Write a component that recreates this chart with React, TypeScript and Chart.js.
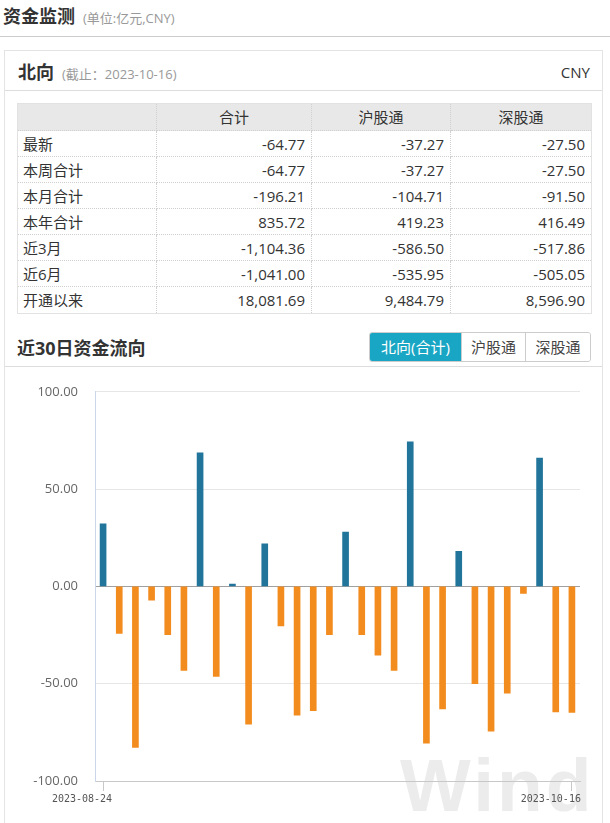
import React, { useEffect, useRef } from "react";
import { Chart, registerables } from "chart.js";

Chart.register(...registerables);

// ---------- data ----------
const dates = [
  "2023-08-24", "2023-08-25", "2023-08-28", "2023-08-29", "2023-08-30", "2023-08-31",
  "2023-09-01", "2023-09-04", "2023-09-05", "2023-09-06", "2023-09-07", "2023-09-11",
  "2023-09-12", "2023-09-13", "2023-09-14", "2023-09-15", "2023-09-18", "2023-09-19",
  "2023-09-20", "2023-09-21", "2023-09-22", "2023-09-25", "2023-09-26", "2023-09-27",
  "2023-10-09", "2023-10-10", "2023-10-11", "2023-10-12", "2023-10-13", "2023-10-16",
];
const northFlow = [
  32.1, -24.1, -82.7, -7.1, -24.8, -43.2, 68.7, -46.3, 1.2, -70.8,
  21.9, -20.3, -66.2, -63.9, -24.8, 27.9, -24.8, -35.4, -43.2, 74.3,
  -80.5, -62.9, 18.0, -50.0, -74.4, -54.9, -3.6, 65.9, -64.5, -64.77,
];
const yTicks = [100, 50, 0, -50, -100];

const tableColumns = ["合计", "沪股通", "深股通"];
const rowLabels = ["最新", "本周合计", "本月合计", "本年合计", "近3月", "近6月", "开通以来"];
const totalCol = ["-64.77", "-64.77", "-196.21", "835.72", "-1,104.36", "-1,041.00", "18,081.69"];
const shCol = ["-37.27", "-37.27", "-104.71", "419.23", "-586.50", "-535.95", "9,484.79"];
const szCol = ["-27.50", "-27.50", "-91.50", "416.49", "-517.86", "-505.05", "8,596.90"];
const tabs = ["北向(合计)", "沪股通", "深股通"];

const BLUE = "#21759b";
const ORANGE = "#f28c1e";
const TEAL = "#19a6c4";
const FONT = '"Open Sans", "Noto Sans CJK SC", sans-serif';

function FlowChart() {
  const ref = useRef<HTMLCanvasElement | null>(null);
  useEffect(() => {
    if (!ref.current) return;
    const last = dates.length - 1;
    const chart = new Chart(ref.current, {
      type: "bar",
      data: {
        labels: dates,
        datasets: [
          {
            data: northFlow,
            backgroundColor: northFlow.map((v) => (v >= 0 ? BLUE : ORANGE)),
            borderWidth: 0,
            barThickness: 6,
          },
        ],
      },
      options: {
        animation: false,
        responsive: false,
        maintainAspectRatio: false,
        layout: { padding: { top: 24, right: 22, bottom: 16, left: 0 } },
        plugins: { legend: { display: false }, tooltip: { enabled: false } },
        scales: {
          x: {
            offset: true,
            grid: {
              display: true,
              offset: false,
              drawOnChartArea: false,
              drawTicks: true,
              tickLength: 10,
              color: (c: any) => (c.index === 0 || c.index === last ? "#c8c8c8" : "rgba(0,0,0,0)"),
            },
            border: { display: true, color: "#c8c8c8" },
            ticks: {
              autoSkip: false,
              maxRotation: 0,
              minRotation: 0,
              align: "end",
              labelOffset: 9,
              padding: 2,
              color: "#555",
              font: { family: "DejaVu Sans Mono", size: 10 },
              callback: (_v: any, i: number) => (i === 0 || i === last ? dates[i] : ""),
            },
          },
          y: {
            min: -100,
            max: 100,
            afterBuildTicks: (s: any) => {
              s.ticks = yTicks.map((v) => ({ value: v }));
            },
            afterFit: (s: any) => {
              s.width = 90;
            },
            grid: {
              drawTicks: false,
              color: (c: any) =>
                c.tick && c.tick.value === 0 ? "#a0a0a0" : c.tick && c.tick.value === -100 ? "#c8c8c8" : "#e6e6e6",
            },
            border: { color: "#ccd6eb" },
            ticks: {
              padding: 17,
              color: "#666",
              font: { family: "Open Sans", size: 13 },
              callback: (v: any) => Number(v).toFixed(2),
            },
          },
        },
      },
    } as any);
    return () => chart.destroy();
  }, []);
  return (
    <canvas
      ref={ref}
      width={597}
      height={456}
      style={{ position: "absolute", left: 5, top: 367, width: 597, height: 456, zIndex: 2 }}
    />
  );
}

const abs = (o: React.CSSProperties): React.CSSProperties => ({ position: "absolute", ...o });

export default function App() {
  const colW = [139, 155, 139, 140];
  const cellBase: React.CSSProperties = {
    boxSizing: "border-box",
    borderRight: "1px dotted #cfcfcf",
    borderBottom: "1px dotted #cfcfcf",
    whiteSpace: "nowrap",
    overflow: "hidden",
  };
  const rows = rowLabels.map((r, i) => [r, totalCol[i], shCol[i], szCol[i]]);
  return (
    <div
      style={abs({
        left: 0,
        top: 0,
        width: 610,
        height: 823,
        overflow: "hidden",
        background: "#fff",
        fontFamily: FONT,
        color: "#333",
      })}
    >
      {/* page title */}
      <div style={abs({ left: 3, top: 4, height: 24, lineHeight: "24px", whiteSpace: "nowrap" })}>
        <span style={{ fontSize: 18, fontWeight: 700, color: "#333" }}>资金监测</span>
        <span style={{ fontSize: 13, color: "#999", marginLeft: 8 }}>(单位:亿元,CNY)</span>
      </div>
      <div style={abs({ left: 0, top: 36, width: 610, height: 1, background: "#cccccc" })} />

      {/* panel */}
      <div
        style={abs({
          left: 4,
          top: 50,
          width: 599,
          height: 800,
          boxSizing: "border-box",
          border: "1px solid #e4e4e4",
        })}
      />
      <div style={abs({ left: 18, top: 60, height: 24, lineHeight: "24px", whiteSpace: "nowrap" })}>
        <span style={{ fontSize: 18, fontWeight: 700, color: "#333" }}>北向</span>
        <span style={{ fontSize: 13, color: "#999", marginLeft: 8 }}>(截止：2023-10-16)</span>
      </div>
      <div style={abs({ right: 20, top: 60, height: 24, lineHeight: "24px", fontSize: 15, color: "#333" })}>CNY</div>
      <div style={abs({ left: 5, top: 90, width: 597, height: 1, background: "#dddddd" })} />

      {/* table */}
      <div
        style={abs({
          left: 17,
          top: 103,
          border: "1px solid #e2e2e2",
          display: "grid",
          gridTemplateColumns: colW.map((w) => w + "px").join(" "),
          gridTemplateRows: "27px " + rows.map(() => "26px").join(" "),
          fontSize: 15,
        })}
      >
        <div style={{ ...cellBase, background: "#e8e8e8" }} />
        {tableColumns.map((c, i) => (
          <div
            key={"h" + i}
            style={{
              ...cellBase,
              background: "#e8e8e8",
              textAlign: "center",
              lineHeight: "27px",
              borderRight: i === tableColumns.length - 1 ? "none" : cellBase.borderRight,
            }}
          >
            {c}
          </div>
        ))}
        {rows.map((r, ri) =>
          r.map((v, ci) => (
            <div
              key={ri + "-" + ci}
              style={{
                ...cellBase,
                lineHeight: "26px",
                textAlign: ci === 0 ? "left" : "right",
                padding: ci === 0 ? "0 0 0 5px" : "0 6px 0 0",
                borderRight: ci === 3 ? "none" : cellBase.borderRight,
                borderBottom: ri === rows.length - 1 ? "none" : cellBase.borderBottom,
              }}
            >
              {v}
            </div>
          ))
        )}
      </div>

      {/* chart header */}
      <div
        style={abs({
          left: 17,
          top: 336,
          height: 24,
          lineHeight: "24px",
          fontSize: 18,
          fontWeight: 700,
          whiteSpace: "nowrap",
        })}
      >
        近30日资金流向
      </div>
      <div
        style={abs({
          left: 369,
          top: 332,
          width: 222,
          height: 30,
          boxSizing: "border-box",
          border: "1px solid #cccccc",
          borderRadius: 3,
          display: "flex",
          overflow: "hidden",
          fontSize: 15,
        })}
      >
        {tabs.map((t, i) => (
          <div
            key={t}
            style={{
              width: [91, 64, 65][i],
              boxSizing: "border-box",
              textAlign: "center",
              lineHeight: "28px",
              background: i === 0 ? TEAL : "#fff",
              color: i === 0 ? "#fff" : "#444",
              borderLeft: i > 0 ? "1px solid #cccccc" : "none",
              whiteSpace: "nowrap",
            }}
          >
            {t}
          </div>
        ))}
      </div>
      <div style={abs({ left: 5, top: 366, width: 597, height: 1, background: "#dddddd" })} />

      {/* watermark */}
      <div
        style={abs({
          left: 400,
          top: 748,
          fontFamily: '"Liberation Sans", Arial, sans-serif',
          fontWeight: 700,
          fontSize: 75,
          lineHeight: "75px",
          letterSpacing: 3,
          color: "#ececec",
          zIndex: 1,
          whiteSpace: "nowrap",
        })}
      >
        Wind
      </div>

      <FlowChart />
    </div>
  );
}
